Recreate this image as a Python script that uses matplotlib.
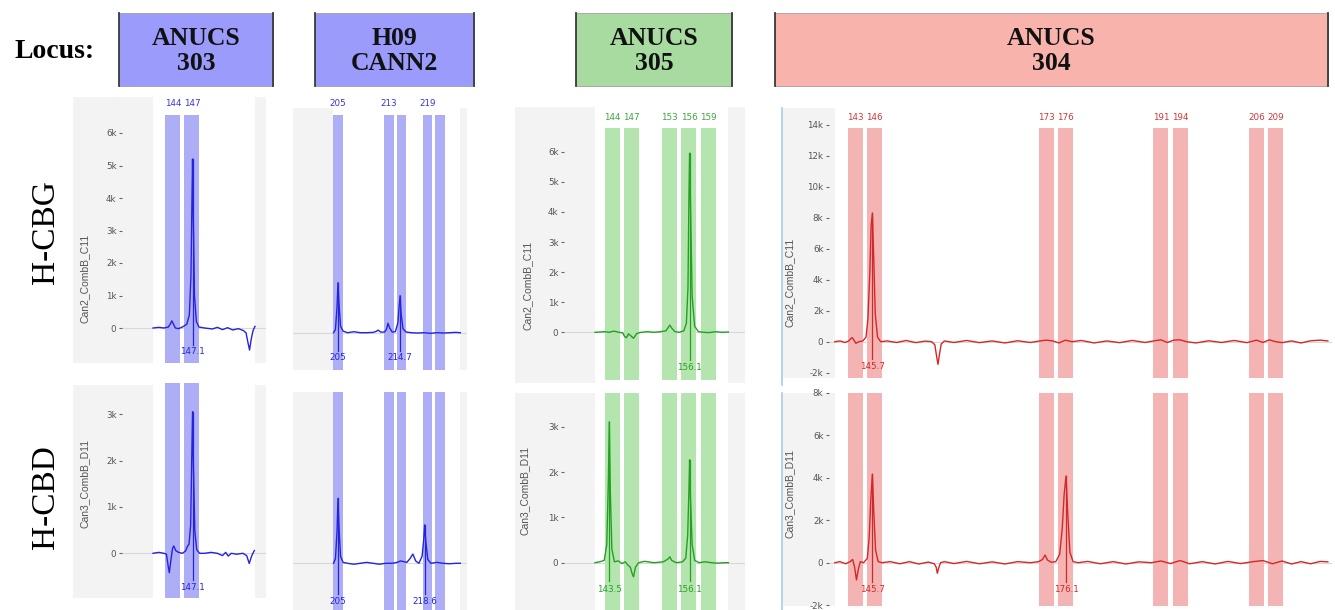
import numpy as np
import matplotlib
matplotlib.use('Agg')
import matplotlib.pyplot as plt
from matplotlib.patches import Rectangle
from matplotlib.lines import Line2D

# ---------------- data ----------------
loci = ['ANUCS\n303', 'H09\nCANN2', 'ANUCS\n305', 'ANUCS\n304']
samples = ['H-CBG', 'H-CBD']
channels = ['Can2_CombB_C11', 'Can3_CombB_D11']

bins_303 = [144, 147]
bins_h09 = [205, 213, 215, 219, 221]
bins_305 = [144, 147, 153, 156, 159]
bins_304 = [143, 146, 173, 176, 191, 194, 206, 209]
bin_labels_303 = ['144', '147']
bin_labels_h09 = ['205', '213', '', '219', '']
bin_labels_305 = ['144', '147', '153', '156', '159']
bin_labels_304 = ['143', '146', '173', '176', '191', '194', '206', '209']
bin_width_303 = 2.35
bin_width_h09 = 1.45
bin_width_305 = 2.35
bin_width_304 = 2.35

ticks_303_cbg = [0, 1, 2, 3, 4, 5, 6]
ticks_305_cbg = [0, 1, 2, 3, 4, 5, 6]
ticks_304_cbg = [-2, 0, 2, 4, 6, 8, 10, 12, 14]
ticks_303_cbd = [0, 1, 2, 3]
ticks_305_cbd = [0, 1, 2, 3]
ticks_304_cbd = [-2, 0, 2, 4, 6, 8]

# traces: (size bp, signal in k RFU)
trace_303_cbg = [(140.9, 0.0), (141.8, 0.02), (142.6, 0.0), (143.3, 0.03), (143.6, 0.12), (143.85, 0.22),
                 (144.1, 0.12), (144.4, 0.0), (144.9, -0.02), (145.6, 0.04), (146.2, 0.12), (146.6, 0.4),
                 (146.85, 1.6), (147.0, 3.8), (147.1, 5.2), (147.22, 3.4), (147.4, 1.0), (147.7, 0.2),
                 (148.1, 0.03), (149.0, 0.0), (150.2, -0.03), (151.0, 0.02), (151.8, -0.05), (152.6, 0.01),
                 (153.4, -0.06), (154.3, -0.02), (155.1, -0.08), (155.5, -0.15), (155.8, -0.45),
                 (156.05, -0.68), (156.3, -0.35), (156.6, -0.08), (156.9, 0.05)]
trace_h09_cbg = [(204.3, 0.0), (204.6, 0.1), (204.85, 0.8), (205.0, 1.54), (205.15, 0.9), (205.4, 0.2),
                 (205.8, 0.05), (206.5, 0.0), (207.5, 0.03), (208.5, 0.0), (209.5, 0.0), (210.5, 0.01),
                 (211.0, 0.04), (211.3, 0.08), (211.7, 0.02), (212.3, 0.02), (212.6, 0.1), (212.85, 0.29),
                 (213.1, 0.15), (213.5, 0.02), (214.0, 0.03), (214.4, 0.3), (214.6, 0.8), (214.75, 1.14),
                 (214.9, 0.6), (215.2, 0.12), (215.7, 0.02), (216.5, 0.0), (217.5, -0.01), (218.5, 0.0),
                 (219.5, -0.02), (220.5, 0.0), (221.5, -0.01), (222.5, 0.0), (223.5, 0.01), (224.2, 0.0)]
trace_305_cbg = [(141.25, 0.0), (142.0, 0.01), (142.8, 0.02), (143.5, 0.0), (144.2, 0.04), (145.0, 0.0),
                 (145.6, -0.02), (145.9, -0.14), (146.2, -0.18), (146.5, -0.05), (146.9, -0.12),
                 (147.3, -0.2), (147.8, -0.04), (148.5, 0.0), (149.5, 0.02), (150.5, 0.0), (151.5, 0.02),
                 (152.4, 0.05), (152.8, 0.18), (153.0, 0.24), (153.3, 0.14), (153.8, 0.02), (154.5, 0.0),
                 (155.2, 0.05), (155.6, 0.3), (155.85, 1.5), (156.0, 4.5), (156.1, 5.95), (156.25, 4.2),
                 (156.5, 1.2), (156.9, 0.2), (157.5, 0.02), (158.3, 0.0), (159.2, -0.01), (160.2, 0.02),
                 (161.2, 0.0), (162.2, 0.01)]
trace_304_cbg = [(139.8, 0.0), (140.6, 0.05), (141.4, -0.05), (142.0, 0.05), (142.3, 0.2), (142.55, 0.26),
                 (142.8, 0.1), (143.1, -0.1), (143.6, 0.0), (144.2, 0.05), (144.7, 0.3), (145.0, 1.5),
                 (145.3, 4.5), (145.5, 7.5), (145.7, 8.3), (145.9, 5.5), (146.15, 1.8), (146.5, 0.3),
                 (147.0, 0.0), (148.0, 0.05), (149.5, -0.05), (151.0, 0.08), (152.5, -0.06), (154.0, 0.04),
                 (155.0, 0.0), (155.5, -0.2), (155.8, -1.0), (156.0, -1.46), (156.2, -0.9), (156.5, -0.15),
                 (157.0, 0.05), (158.5, -0.05), (160.5, 0.08), (162.5, -0.06), (164.5, 0.05), (166.5, -0.08),
                 (168.5, 0.06), (170.5, -0.05), (172.0, 0.05), (173.0, 0.1), (174.0, 0.05), (175.0, -0.08),
                 (176.0, 0.1), (177.0, 0.0), (178.5, 0.08), (180.5, -0.08), (182.5, 0.05), (184.5, -0.06),
                 (186.5, 0.08), (188.5, -0.05), (190.0, 0.06), (191.0, 0.12), (192.0, -0.05), (193.0, 0.1),
                 (194.0, 0.12), (195.0, 0.0), (196.5, -0.08), (198.5, 0.06), (200.5, -0.05), (202.5, 0.08),
                 (204.5, -0.06), (206.0, 0.1), (207.0, -0.05), (208.0, 0.12), (209.0, 0.0), (210.0, -0.06),
                 (211.5, 0.05), (213.0, -0.08), (214.5, 0.06), (216.0, 0.1), (217.2, 0.05)]
trace_303_cbd = [(140.9, 0.0), (141.8, 0.02), (142.6, 0.0), (143.0, -0.02), (143.3, -0.3), (143.45, -0.42),
                 (143.7, -0.15), (143.95, 0.1), (144.15, 0.16), (144.45, 0.06), (144.9, 0.02), (145.5, 0.0),
                 (146.0, 0.05), (146.3, 0.15), (146.55, 0.2), (146.8, 0.6), (146.97, 2.0), (147.1, 3.06),
                 (147.25, 1.8), (147.45, 0.5), (147.75, 0.08), (148.2, 0.0), (149.0, 0.0), (150.0, 0.02),
                 (151.0, 0.0), (151.8, -0.05), (152.3, 0.02), (152.7, -0.06), (153.2, 0.0), (154.0, -0.02),
                 (155.0, 0.0), (155.6, -0.05), (156.0, -0.22), (156.4, -0.05), (156.8, 0.06)]
trace_h09_cbd = [(204.3, 0.0), (204.6, 0.1), (204.85, 0.7), (205.0, 1.4), (205.15, 0.8), (205.4, 0.15),
                 (205.8, 0.02), (206.5, 0.0), (207.5, -0.02), (208.5, 0.0), (209.5, 0.02), (210.5, 0.0),
                 (211.5, -0.02), (212.5, 0.0), (213.5, 0.0), (214.3, 0.02), (214.8, 0.05), (215.2, 0.04),
                 (215.8, 0.02), (216.3, 0.1), (216.75, 0.2), (217.2, 0.05), (217.7, 0.0), (218.2, 0.15),
                 (218.45, 0.5), (218.6, 0.83), (218.8, 0.45), (219.1, 0.08), (219.6, 0.0), (220.5, 0.02),
                 (221.5, 0.0), (222.5, -0.01), (223.5, 0.0), (224.2, 0.0)]
trace_305_cbd = [(141.25, 0.0), (142.0, 0.02), (142.7, 0.05), (143.1, 0.4), (143.35, 1.8), (143.5, 3.11),
                 (143.65, 1.6), (143.9, 0.3), (144.3, 0.02), (144.9, 0.04), (145.5, -0.02), (146.0, 0.02),
                 (146.4, -0.05), (146.8, -0.1), (147.1, -0.25), (147.3, -0.31), (147.6, -0.1), (148.1, 0.0),
                 (149.0, 0.03), (150.5, 0.0), (152.0, 0.02), (152.7, 0.08), (153.0, 0.13), (153.3, 0.05),
                 (154.0, 0.0), (155.0, 0.02), (155.5, 0.1), (155.8, 0.6), (156.0, 1.6), (156.1, 2.27),
                 (156.25, 1.4), (156.5, 0.4), (156.9, 0.05), (157.6, 0.0), (158.5, 0.02), (159.5, 0.0),
                 (160.5, -0.01), (161.5, 0.0), (162.2, 0.0)]
trace_304_cbd = [(139.8, 0.0), (140.6, 0.05), (141.5, -0.05), (142.2, 0.05), (142.6, 0.15), (142.9, -0.2),
                 (143.2, -0.81), (143.5, -0.3), (143.8, 0.05), (144.3, 0.0), (144.9, 0.2), (145.2, 1.2),
                 (145.45, 3.0), (145.7, 4.17), (145.9, 2.5), (146.2, 0.6), (146.6, 0.05), (147.2, 0.0),
                 (148.5, 0.05), (150.0, -0.05), (151.5, 0.05), (153.0, -0.06), (154.5, 0.03), (155.4, -0.05),
                 (155.7, -0.2), (155.9, -0.5), (156.1, -0.25), (156.4, 0.0), (157.0, 0.05), (158.5, -0.04),
                 (160.5, 0.06), (162.5, -0.05), (164.5, 0.04), (166.5, -0.06), (168.5, 0.05), (170.5, 0.0),
                 (171.8, 0.05), (172.4, 0.15), (172.8, 0.36), (173.2, 0.12), (173.8, 0.02), (174.5, 0.05),
                 (175.1, 0.4), (175.5, 1.6), (175.8, 3.2), (176.1, 4.08), (176.35, 2.4), (176.7, 0.5),
                 (177.2, 0.05), (178.0, 0.0), (179.5, 0.06), (181.5, -0.05), (183.5, 0.05), (185.5, -0.06),
                 (187.5, 0.04), (189.5, 0.0), (191.0, 0.08), (192.5, -0.04), (194.0, 0.1), (195.5, -0.05),
                 (197.5, 0.05), (199.5, -0.06), (201.5, 0.06), (203.5, -0.04), (205.5, 0.05), (207.0, 0.1),
                 (208.5, -0.05), (210.0, 0.08), (211.5, -0.06), (213.0, 0.05), (214.5, -0.05), (216.0, 0.06),
                 (217.2, 0.04)]

# allele calls: (size, label)
calls_303_cbg = [(147.1, '147.1')]
calls_h09_cbg = [(205.0, '205'), (214.75, '214.7')]
calls_305_cbg = [(156.1, '156.1')]
calls_304_cbg = [(145.7, '145.7')]
calls_303_cbd = [(147.1, '147.1')]
calls_h09_cbd = [(205.0, '205'), (218.6, '218.6')]
calls_305_cbd = [(143.5, '143.5'), (156.1, '156.1')]
calls_304_cbd = [(145.7, '145.7'), (176.1, '176.1')]

# ---------------- styling ----------------
box_colors = ['#9b9bfc', '#9b9bfc', '#a7dba0', '#f9b3ad']
band_colors = ['#aeaef7', '#aeaef7', '#b5e5ae', '#f4b4b4']
trace_colors = ['#2323e0', '#2323e0', '#22a022', '#d42828']
label_colors = ['#3535d8', '#3535d8', '#3fa33f', '#d03535']
GRAY = '#f3f3f3'
PXBP = 6.37

W, H = 1335, 610
fig = plt.figure(figsize=(W / 100, H / 100), dpi=100)
fig.patch.set_facecolor('white')


def fx(x):
    return x / W


def fy(y):
    return 1 - y / H


def fig_rect(x0, x1, y0, y1, **kw):
    r = Rectangle((fx(x0), fy(y1)), fx(x1) - fx(x0), fy(y0) - fy(y1),
                  transform=fig.transFigure, figure=fig, **kw)
    fig.patches.append(r)


def fig_line(xs, ys, **kw):
    fig.add_artist(Line2D([fx(v) for v in xs], [fy(v) for v in ys], transform=fig.transFigure, **kw))


# header
fig.text(fx(55), fy(52), 'Locus:', fontsize=20, fontweight='bold', family='Liberation Serif',
         ha='center', va='center')
box_x = [(119, 273), (315, 474), (576, 732), (775, 1328)]
for name, col, (x0, x1) in zip(loci, box_colors, box_x):
    fig_rect(x0, x1, 13, 86, facecolor=col, edgecolor='#a0a0a0', lw=0.6, zorder=0)
    fig_line([x0, x0], [13, 86], color='#3a3a3a', lw=1.3)
    fig_line([x1, x1], [13, 86], color='#3a3a3a', lw=1.3)
    fig.text(fx((x0 + x1) / 2), fy(51), name, ha='center', va='center', fontsize=18.5,
             fontweight='bold', family='Liberation Serif', linespacing=1.1, color='#111111')

# row labels
fig.text(fx(46), fy(232), samples[0], rotation=90, fontsize=24, family='Liberation Serif',
         ha='center', va='center')
fig.text(fx(46), fy(497), samples[1], rotation=90, fontsize=24, family='Liberation Serif',
         ha='center', va='center')

# panel layout (pixel geometry)
panels = [
    dict(trace=trace_303_cbg, bins=bins_303, blabs=bin_labels_303, bw=bin_width_303, calls=calls_303_cbg,
         ticks=ticks_303_cbg, ci=0, ylab=channels[0], ax=(122, 266, 115, 363), zero=328, kpx=32.5,
         ref=(144, 172.8), gray=(73, 153, 97, 363), gray_r=(255, 266), band=(115, 363), blab_y=103,
         ylab_pos=(85, 278), call_y=352, drop_to=345, vline=None),
    dict(trace=trace_h09_cbg, bins=bins_h09, blabs=bin_labels_h09, bw=bin_width_h09, calls=calls_h09_cbg,
         ticks=None, ci=1, ylab=None, ax=(293, 467, 115, 370), zero=332.7, kpx=32.5,
         ref=(205, 338), gray=(293, 333, 108, 370), gray_r=(460, 467), band=(115, 370), blab_y=104,
         ylab_pos=None, call_y=357, drop_to=351, vline=None),
    dict(trace=trace_305_cbg, bins=bins_305, blabs=bin_labels_305, bw=bin_width_305, calls=calls_305_cbg,
         ticks=ticks_305_cbg, ci=2, ylab=channels[0], ax=(564, 745, 128, 383), zero=332.3, kpx=30.1,
         ref=(144, 612.5), gray=(515, 595, 107, 383), gray_r=(728, 745), band=(128, 380), blab_y=117,
         ylab_pos=(528, 285), call_y=368, drop_to=360, vline=None),
    dict(trace=trace_304_cbg, bins=bins_304, blabs=bin_labels_304, bw=bin_width_304, calls=calls_304_cbg,
         ticks=ticks_304_cbg, ci=3, ylab=channels[0], ax=(829, 1332, 124, 378), zero=341.7, kpx=15.5,
         ref=(143, 855.2), gray=(783, 835, 108, 378), gray_r=None, band=(128, 378), blab_y=117,
         ylab_pos=(790, 282), call_y=367, drop_to=359, vline=(781.5, 108, 385)),
    dict(trace=trace_303_cbd, bins=bins_303, blabs=None, bw=bin_width_303, calls=calls_303_cbd,
         ticks=ticks_303_cbd, ci=0, ylab=channels[1], ax=(122, 266, 383, 598), zero=553.3, kpx=46.3,
         ref=(144, 172.8), gray=(73, 153, 385, 598), gray_r=(255, 266), band=(383, 598), blab_y=None,
         ylab_pos=(85, 483), call_y=587, drop_to=580, vline=None),
    dict(trace=trace_h09_cbd, bins=bins_h09, blabs=None, bw=bin_width_h09, calls=calls_h09_cbd,
         ticks=None, ci=1, ylab=None, ax=(293, 467, 392, 610), zero=563.3, kpx=46.3,
         ref=(205, 338), gray=(293, 333, 392, 610), gray_r=(460, 467), band=(392, 610), blab_y=None,
         ylab_pos=None, call_y=601, drop_to=594, vline=None),
    dict(trace=trace_305_cbd, bins=bins_305, blabs=None, bw=bin_width_305, calls=calls_305_cbd,
         ticks=ticks_305_cbd, ci=2, ylab=channels[1], ax=(564, 745, 393, 610), zero=562.7, kpx=45.3,
         ref=(144, 612.5), gray=(515, 595, 393, 610), gray_r=(728, 745), band=(393, 610), blab_y=None,
         ylab_pos=(525, 490), call_y=589, drop_to=581, vline=None),
    dict(trace=trace_304_cbd, bins=bins_304, blabs=None, bw=bin_width_304, calls=calls_304_cbd,
         ticks=ticks_304_cbd, ci=3, ylab=channels[1], ax=(829, 1332, 391, 606), zero=562.7, kpx=21.25,
         ref=(143, 855.2), gray=(783, 835, 393, 606), gray_r=None, band=(393, 606), blab_y=None,
         ylab_pos=(790, 493), call_y=589, drop_to=582, vline=(781.5, 393, 610)),
]


def fmt_k(v):
    return '0' if v == 0 else f'{v:d}k'


for P in panels:
    x0, x1, y0, y1 = P['ax']
    ci = P['ci']
    # gray side areas
    gx0, gx1, gy0, gy1 = P['gray']
    fig_rect(gx0, gx1, gy0, gy1, facecolor=GRAY, edgecolor='none', zorder=-2)
    if P['gray_r']:
        fig_rect(P['gray_r'][0], P['gray_r'][1], gy0, gy1, facecolor=GRAY, edgecolor='none', zorder=-2)
    if P['vline']:
        vx, vy0, vy1 = P['vline']
        fig_line([vx, vx], [vy0, vy1], color='#a9c9ea', lw=1.2)

    ax = fig.add_axes([fx(x0), fy(y1), fx(x1) - fx(x0), fy(y0) - fy(y1)])
    ax.set_facecolor('none')
    ref_bp, ref_px = P['ref']
    ax.set_xlim(ref_bp + (x0 - ref_px) / PXBP, ref_bp + (x1 - ref_px) / PXBP)
    z, k = P['zero'], P['kpx']
    ax.set_ylim((z - y1) / k, (z - y0) / k)
    for s in ax.spines.values():
        s.set_visible(False)
    ax.set_xticks([])

    # bins
    bt, bb = P['band']
    fa = (y1 - bb) / (y1 - y0)
    fb = (y1 - bt) / (y1 - y0)
    for b in P['bins']:
        ax.axvspan(b - P['bw'] / 2, b + P['bw'] / 2, ymin=fa, ymax=fb, color=band_colors[ci], lw=0, zorder=1)
    if P['blabs']:
        for b, lab in zip(P['bins'], P['blabs']):
            if lab:
                ax.text(b, (z - P['blab_y']) / k, lab, ha='center', va='center', fontsize=6.3,
                        color=label_colors[ci], clip_on=False)

    # zero line
    ax.axhline(0, color='#d8d8d8', lw=0.8, zorder=0.5)

    # trace
    arr = np.array(P['trace'])
    ax.plot(arr[:, 0], arr[:, 1], color=trace_colors[ci], lw=1.0, zorder=3, solid_joinstyle='round')

    # allele calls
    for cbp, clab in P['calls']:
        near = np.abs(arr[:, 0] - cbp) < 0.3
        top = arr[near, 1].max()
        ax.plot([cbp, cbp], [top, (z - P['drop_to']) / k], color=trace_colors[ci], lw=0.9,
                zorder=4, clip_on=False)
        ax.text(cbp, (z - P['call_y']) / k, clab, ha='center', va='center', fontsize=6.3,
                color=trace_colors[ci], clip_on=False, zorder=5)

    # y ticks
    if P['ticks']:
        ax.set_yticks(P['ticks'])
        ax.set_yticklabels([fmt_k(v) for v in P['ticks']])
        ax.tick_params(axis='y', length=2.5, width=0.8, color='#666666', labelsize=6.3,
                       labelcolor='#555555', pad=1.5)
    else:
        ax.set_yticks([])
    if P['ylab']:
        lx, ly = P['ylab_pos']
        fig.text(fx(lx), fy(ly), P['ylab'], rotation=90, ha='center', va='center', fontsize=7.5,
                 color='#555555', family='Liberation Sans')

fig.savefig('out.png', dpi=100, facecolor='white')
